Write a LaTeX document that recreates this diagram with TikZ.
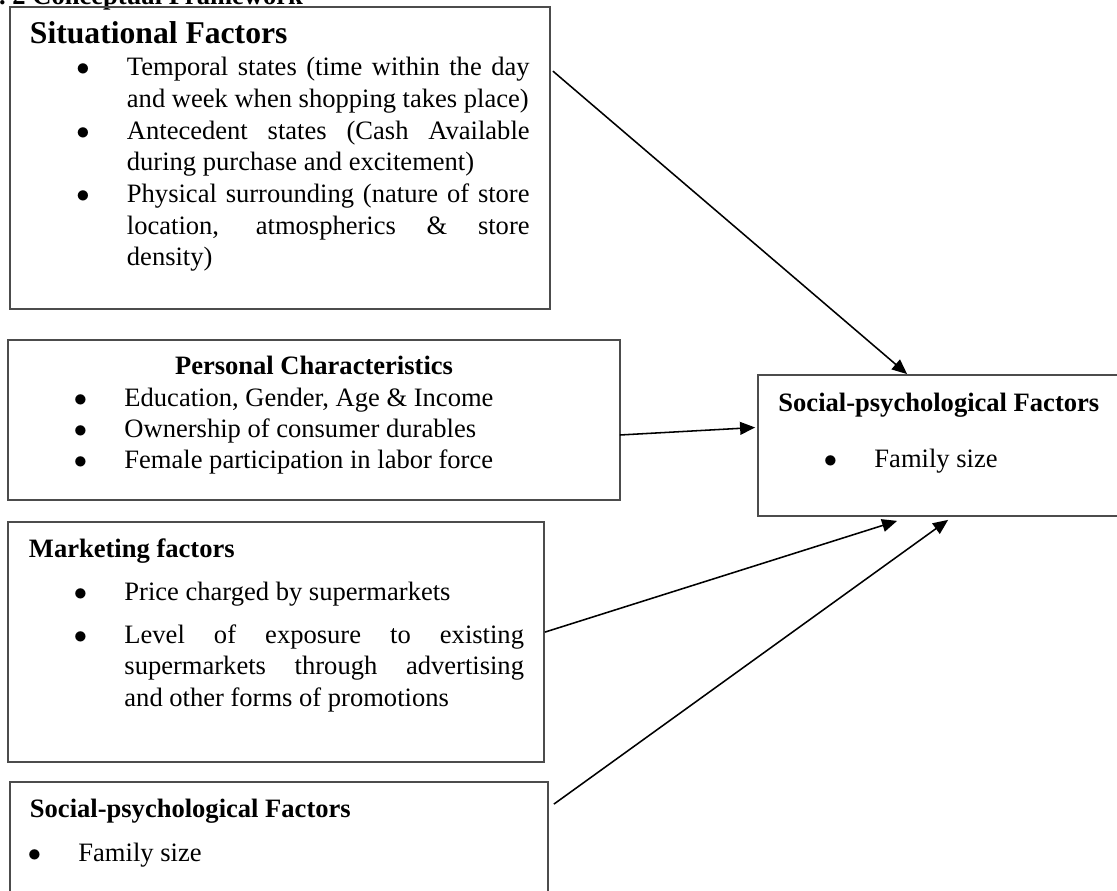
\documentclass[tikz,border=0pt]{standalone}
\usepackage{fontspec}
\setmainfont{Liberation Serif}
\usetikzlibrary{arrows.meta,calc,fit}

\tolerance=10000
\hyphenpenalty=10000

% bullet hung in the left margin of a list node
\newcommand{\bul}{\noindent\llap{$\bullet$\hspace{16.9pt}}}

\begin{document}
\begin{tikzpicture}[x=0.452pt,y=-0.452pt,
	box/.style={draw=black!70, line width=0.8pt, inner sep=0pt},
	txt/.style={anchor=base west, inner sep=0pt, align=justify, font=\fontsize{12}{14.3}\selectfont},
	head/.style={anchor=base west, inner sep=0pt, font=\fontsize{12}{14.3}\selectfont\bfseries},
	arr/.style={-{Triangle[length=6.8pt,width=5.8pt]}, line width=0.7pt}]

	%Page
	\useasboundingbox (0,0) rectangle (1117,891);
	\clip (0,0) rectangle (1117,891);
	\fill[white] (0,0) rectangle (1117,891);

	%Heading
	\node[head] (fig) at (12,5) {\llap{Fig.\ }2 Conceptual Framework};

	%Situational factors
	\node[box, fit={(10,7) (550,309)}] (sit) {};
	\node[head, font=\fontsize{14.3}{16}\selectfont\bfseries] (sittitle) at (29.5,44) {Situational Factors};
	\node[txt, text width=182pt] (sitlist) at (126.5,76) {%
		\bul Temporal states (time within the day\linebreak and week when shopping takes place)\par
		\bul Antecedent states (Cash Available\linebreak during purchase and excitement)\par
		\bul Physical surrounding (nature of store\linebreak location, atmospherics \& store\linebreak density)};

	%Personal characteristics
	\node[box, fit={(8,340) (620,500)}] (pers) {};
	\node[head, anchor=base] (perstitle) at (314,375) {Personal Characteristics};
	\node[txt, text width=180pt, font=\fontsize{12}{13.8}\selectfont] (perslist) at (124,407) {%
		\bul Education, Gender, Age \& Income\par
		\bul Ownership of consumer durables\par
		\bul Female participation in labor force};

	%Marketing factors
	\node[box, fit={(8,522) (544,762)}] (mkt) {};
	\node[head] (mkttitle) at (28.5,557) {Marketing factors};
	\node[txt, text width=180.6pt] (mktlist) at (124,600) {%
		\bul Price charged by supermarkets\par\vspace{5.2pt}
		\bul Level of exposure to existing\linebreak supermarkets through advertising\linebreak and other forms of promotions};

	%Social-psychological factors (left)
	\node[box, fit={(10,782) (548,905)}] (fam) {};
	\node[head] (famtitle) at (29.5,817) {Social-psychological Factors};
	\node[txt, text width=80pt] (famlist) at (78,861) {\bul Family size};

	%Social-psychological factors (right)
	\node[box, fit={(758,375) (1130,516)}] (soc) {};
	\node[head] (soctitle) at (778,412) {Social-psychological Factors};
	\node[txt, text width=80pt] (soclist) at (874,468) {\bul Family size};

	%Arrows
	\draw[arr] ($(sit.north east)+(2,65)$) -- ($(soc.north west)+(150,0)$);
	\draw[arr] ($(pers.east)+(-1,15)$) -- ($(soc.west)+(-2,-18)$);
	\draw[arr] ($(mkt.north east)+(0,111)$) -- ($(soc.south west)+(140,4)$);
	\draw[arr] ($(fam.north east)+(5,23)$) -- ($(soc.south west)+(191,3)$);

\end{tikzpicture}
\end{document}
